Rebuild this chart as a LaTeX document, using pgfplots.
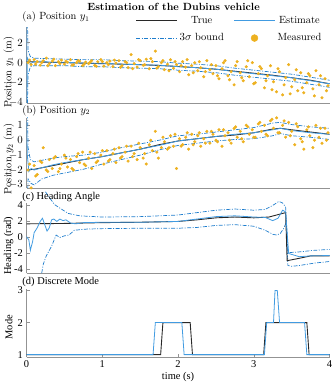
\documentclass[border=0pt]{standalone}
\usepackage{fontspec}
\usepackage{pgfplots}
\usepackage{pgfplotstable}
\pgfplotsset{compat=1.18}
\newfontfamily\tnr{Liberation Serif}
\definecolor{truec}{RGB}{40,40,40}
\definecolor{estc}{RGB}{65,155,225}
\definecolor{bndc}{RGB}{30,125,205}
\definecolor{measc}{RGB}{237,177,32}
\pgfplotsset{
  dub/.style={
    scale only axis, width=305pt, anchor=north west,
    xmin=0, xmax=4, xtick={0,1,2,3,4},
    axis x line*=bottom, axis y line*=left,
    axis line style={-, draw=gray!85},
    tick style={gray!85, line width=0.4pt}, tick align=inside,
    major tick length=3pt, clip bounding box=upper bound,
  },
  ylab/.style={ylabel style={at={(axis description cs:-0.059,#1)}, anchor=center}},
  notx/.style={xtick=\empty},
  truel/.style={truec, line width=0.9pt, no marks},
  estl/.style={estc, line width=0.8pt, no marks},
  bndl/.style={bndc, line width=0.7pt, no marks, dash pattern=on 4pt off 1.5pt on 1pt off 1.5pt},
  measl/.style={only marks, mark=*, mark size=1.35pt, measc, mark options={draw=none, fill=measc}},
  linelegend/.style={legend image code/.code={\draw[##1] (0cm,0cm) -- (1.45cm,0cm);}},
  dotlegend/.style={legend image code/.code={\draw[##1] plot coordinates {(0.72cm,0cm)};}},
}

% measured y1
\pgfplotstableread{
t y
0.02 0.0
0.06 -0.2
0.10 0.3
0.14 0.1
0.18 -0.25
0.22 0.2
0.26 0.45
0.30 -0.1
0.34 0.15
0.38 -0.3
0.42 0.1
0.46 0.25
0.50 -0.15
0.54 0.05
0.58 0.3
0.62 -0.2
0.66 0.0
0.70 0.15
0.74 -0.3
0.78 0.05
0.82 -0.1
0.86 0.2
0.90 -0.25
0.94 0.1
0.98 0.3
1.02 -0.35
1.06 0.0
1.10 0.15
1.14 -0.4
1.18 -0.05
1.22 0.2
1.26 -0.3
1.30 0.1
1.34 -0.5
1.38 0.8
1.42 -0.1
1.46 -0.45
1.50 0.2
1.54 -0.25
1.58 0.35
1.62 -0.6
1.66 0.1
1.70 1.15
1.74 -0.4
1.78 0.0
1.82 -0.7
1.86 -0.15
1.90 0.3
1.94 -0.55
1.98 -0.2
2.02 -0.9
2.06 0.1
2.10 -0.45
2.14 -1.2
2.18 -0.3
2.22 0.0
2.26 -0.8
2.30 -0.5
2.34 -1.4
2.38 0.2
2.42 -0.7
2.46 -1.1
2.50 -0.3
2.54 -1.6
2.58 -0.6
2.62 0.2
2.66 -1.3
2.70 -0.9
2.74 -2.2
2.78 0.1
2.82 -1.0
2.86 -1.8
2.90 -0.4
2.94 -1.4
2.98 0.0
3.02 -2.0
3.06 -1.1
3.10 -0.6
3.14 -2.5
3.18 -1.3
3.22 -0.3
3.26 -1.9
3.30 -2.9
3.34 -0.9
3.38 -3.2
3.42 -1.5
3.46 -0.2
3.50 -2.4
3.54 -1.7
3.58 -2.8
3.62 -1.0
3.66 -3.0
3.70 -2.0
3.74 -1.3
3.78 -2.6
3.82 -0.8
3.86 -2.2
3.90 -3.5
3.94 -1.6
3.98 -2.3
0.04 0.25
0.12 -0.15
0.20 0.0
0.28 -0.3
0.36 0.35
0.44 -0.1
0.52 0.15
0.60 -0.25
0.68 0.2
0.76 -0.15
0.84 0.05
0.92 -0.35
1.00 0.1
1.08 -0.2
1.16 0.25
1.24 -0.45
1.32 0.0
1.40 -0.6
1.48 0.3
1.56 -0.2
1.64 0.4
1.72 -0.55
1.80 0.2
1.88 -0.8
1.96 0.1
2.04 -0.3
2.12 0.3
2.20 -1.0
2.28 0.1
2.36 -0.9
2.44 -0.2
2.52 -1.3
2.60 0.0
2.68 -1.7
2.76 -0.3
2.84 -1.5
2.92 0.2
3.00 -2.1
3.08 -0.4
3.16 -1.8
3.24 -2.7
3.32 -0.6
3.40 -2.2
3.48 -3.1
3.56 -0.7
3.64 -2.5
3.72 -1.1
3.80 -3.3
3.88 -1.3
3.96 -2.8
}\measA

% measured y2
\pgfplotstableread{
t y
0.02 -2.0
0.06 -3.2
0.10 -1.7
0.14 -2.3
0.18 -1.4
0.22 -0.5
0.26 -2.0
0.30 -1.3
0.34 -1.9
0.38 -1.1
0.42 -2.1
0.46 -1.6
0.50 -1.0
0.54 -1.8
0.58 -1.3
0.62 -2.0
0.66 -1.1
0.70 -1.5
0.74 -0.8
0.78 -1.7
0.82 -1.2
0.86 -1.9
0.90 -0.9
0.94 -1.4
0.98 -1.0
1.02 -1.6
1.06 -0.7
1.10 -1.3
1.14 -0.9
1.18 -1.5
1.22 -0.5
1.26 -1.1
1.30 -0.8
1.34 -1.4
1.38 -0.4
1.42 -0.9
1.46 -1.3
1.50 -0.5
1.54 -1.2
1.58 -1.6
1.62 -0.3
1.66 -0.7
1.70 0.6
1.74 -1.2
1.78 -0.5
1.82 -0.1
1.86 -0.6
1.90 0.3
1.94 -0.4
1.98 -1.9
2.02 0.1
2.06 -0.3
2.10 0.2
2.14 -0.6
2.18 0.4
2.22 -0.1
2.26 0.3
2.30 -0.4
2.34 0.1
2.38 0.6
2.42 -0.2
2.46 0.4
2.50 0.0
2.54 0.7
2.58 -0.4
2.62 0.3
2.66 0.5
2.70 -0.2
2.74 0.8
2.78 0.2
2.82 0.6
2.86 -0.1
2.90 1.0
2.94 0.4
2.98 0.7
3.02 0.2
3.06 1.1
3.10 0.6
3.14 1.0
3.18 0.3
3.22 1.3
3.26 0.8
3.30 1.5
3.34 0.5
3.38 1.0
3.42 0.2
3.46 1.2
3.50 0.6
3.54 -0.3
3.58 0.9
3.62 0.1
3.66 -0.6
3.70 0.7
3.74 0.3
3.78 -0.5
3.82 1.0
3.86 0.2
3.90 -0.2
3.94 0.8
3.98 0.5
0.04 -1.6
0.12 -2.4
0.20 -1.5
0.28 -2.1
0.36 -1.2
0.44 -1.9
0.52 -1.2
0.60 -1.9
0.68 -0.9
0.76 -1.6
0.84 -0.8
0.92 -1.5
1.00 -0.7
1.08 -1.4
1.16 -0.6
1.24 -1.2
1.32 -0.4
1.40 -1.1
1.48 -0.2
1.56 -0.9
1.64 0.0
1.72 -0.8
1.80 0.2
1.88 -0.5
1.96 0.4
2.04 -0.4
2.12 0.5
2.20 -0.3
2.28 0.5
2.36 -0.2
2.44 0.6
2.52 -0.1
2.60 0.7
2.68 0.0
2.76 0.9
2.84 0.1
2.92 0.9
3.00 0.2
3.08 1.2
3.16 0.4
3.24 1.4
3.32 0.5
3.40 1.3
3.48 0.3
3.56 1.1
3.64 -0.1
3.72 0.9
3.80 0.0
3.88 0.8
3.96 0.0
}\measB

\begin{document}
\fontsize{10.5}{12.6}\selectfont
\begin{tikzpicture}
% (a) position y1
\begin{axis}[dub, notx, ylab=0.41, at={(25pt,-26.8pt)}, height=75.9pt,
  ymin=-4, ymax=3.5, ytick={-4,-2,0,2},
  ylabel={Position $y_1$ (m)},
  legend style={at={(0.99,1.2)}, anchor=north east, draw=none, fill=none,
    legend columns=2, row sep=4.5pt,
    /tikz/every even column/.append style={column sep=8pt}}]
\addlegendimage{truel, linelegend}\addlegendentry{True}
\addlegendimage{estl, linelegend}\addlegendentry{Estimate}
\addlegendimage{bndl, linelegend}\addlegendentry{$3\sigma$ bound}
\addlegendimage{measl, mark size=3.5pt, dotlegend}\addlegendentry{Measured}
\addplot[measl, forget plot] table[x=t, y=y] {\measA};
\addplot[bndl, forget plot] coordinates {(0,8) (0.02,1.2) (0.05,0.6) (0.1,0.45) (0.25,0.4) (0.5,0.35) (0.75,0.3) (1,0.3) (1.25,0.2) (1.5,0.15) (1.75,0.1) (2,-0.05) (2.25,-0.15) (2.5,-0.3) (2.75,-0.55) (3,-0.75) (3.25,-0.95) (3.5,-1.15) (3.75,-1.45) (4,-1.75)};
\addplot[bndl, forget plot] coordinates {(0,-8) (0.02,-1.2) (0.05,-0.4) (0.1,-0.3) (0.25,-0.3) (0.5,-0.3) (0.75,-0.4) (1,-0.4) (1.25,-0.5) (1.5,-0.55) (1.75,-0.6) (2,-0.75) (2.25,-0.85) (2.5,-1.0) (2.75,-1.25) (3,-1.45) (3.25,-1.65) (3.5,-1.85) (3.75,-2.15) (4,-2.45)};
\addplot[truel, forget plot] coordinates {(0,0.1) (0.25,0.05) (0.5,0.0) (0.75,-0.05) (1,-0.1) (1.25,-0.15) (1.5,-0.2) (1.75,-0.28) (2,-0.38) (2.25,-0.5) (2.5,-0.65) (2.75,-0.85) (3,-1.05) (3.25,-1.25) (3.5,-1.5) (3.75,-1.75) (4,-2.1)};
\addplot[estl, forget plot] coordinates {(0,3.6) (0.005,-4.2) (0.01,0.5) (0.03,0.2) (0.05,-0.1) (0.1,0.1) (0.2,0.15) (0.3,0.05) (0.5,0.05) (0.75,-0.05) (1,-0.05) (1.25,-0.15) (1.5,-0.2) (1.75,-0.25) (2,-0.4) (2.25,-0.5) (2.5,-0.65) (2.75,-0.9) (3,-1.1) (3.25,-1.3) (3.5,-1.5) (3.75,-1.8) (4,-2.1)};
\end{axis}

% (b) position y2
\begin{axis}[dub, notx, ylab=0.415, at={(25pt,-117.8pt)}, height=70.5pt,
  ymin=-3.2, ymax=1.5, ytick={-3,-2,-1,0,1},
  ylabel={Position $y_2$ (m)}]
\addplot[measl] table[x=t, y=y] {\measB};
\addplot[bndl] coordinates {(0,6) (0.02,-0.5) (0.05,-1.3) (0.1,-1.45) (0.2,-1.35) (0.35,-1.2) (0.5,-1.1) (0.75,-1.0) (1,-0.8) (1.25,-0.5) (1.5,-0.25) (1.75,0.0) (2,0.3) (2.25,0.4) (2.5,0.55) (2.75,0.7) (3,0.85) (3.25,1.15) (3.35,1.2) (3.5,1.05) (3.75,0.9) (4,0.8)};
\addplot[bndl] coordinates {(0,-6) (0.02,-2.6) (0.06,-2.9) (0.1,-3.0) (0.2,-2.6) (0.35,-2.35) (0.5,-2.2) (0.75,-1.95) (1,-1.6) (1.25,-1.3) (1.5,-1.0) (1.75,-0.65) (2,-0.35) (2.25,-0.2) (2.5,-0.05) (2.75,0.05) (3,0.1) (3.25,0.3) (3.35,0.45) (3.5,0.3) (3.75,0.2) (4,0.05)};
\addplot[truel] coordinates {(0,-2.0) (0.1,-1.95) (0.25,-1.8) (0.5,-1.55) (0.75,-1.3) (1,-1.1) (1.25,-0.85) (1.5,-0.6) (1.75,-0.3) (2,-0.05) (2.25,0.1) (2.5,0.25) (2.75,0.35) (3,0.5) (3.25,0.75) (3.35,0.8) (3.5,0.7) (3.75,0.55) (4,0.4)};
\addplot[estl] coordinates {(0,1.3) (0.01,-1.0) (0.03,-2.1) (0.06,-1.9) (0.1,-2.0) (0.2,-1.85) (0.35,-1.65) (0.5,-1.5) (0.75,-1.3) (1,-1.1) (1.25,-0.85) (1.5,-0.6) (1.75,-0.35) (2,-0.05) (2.25,0.1) (2.5,0.25) (2.75,0.4) (3,0.5) (3.25,0.7) (3.35,0.8) (3.5,0.65) (3.75,0.5) (4,0.4)};
\end{axis}

% (c) heading
\begin{axis}[dub, notx, ylab=0.39, at={(25pt,-203.5pt)}, height=70.5pt, clip=false,
  ymin=-4.44, ymax=4.3, ytick={-4,-2,0,2,4},
  tick label style={font=\tnr}, /pgf/number format/assume math mode=true,
  ylabel={\tnr Heading (rad)}]
\addplot[bndl] coordinates {(0.25,5.7) (0.3,5.0) (0.37,4.1) (0.45,3.6) (0.55,3.0) (0.7,2.7) (1,2.55) (1.5,2.6) (2,2.8) (2.25,3.1) (2.5,3.4) (2.75,3.55) (3,3.4) (3.15,3.5) (3.25,4.0) (3.33,4.5) (3.38,4.3) (3.42,3.8) (3.45,-1.9) (3.6,-1.8) (3.8,-1.6) (4,-1.5)};
\addplot[bndl] coordinates {(0.2,-4.44) (0.22,-3.35) (0.26,-2.3) (0.33,-1.1) (0.39,0.3) (0.44,0.0) (0.5,0.2) (0.56,0.3) (0.63,0.9) (0.8,1.05) (1,1.1) (1.5,1.15) (2,1.15) (2.25,1.25) (2.5,1.5) (2.75,1.6) (3,1.4) (3.15,0.9) (3.25,0.4) (3.3,0.3) (3.35,0.5) (3.4,1.2) (3.43,2.0) (3.45,-3.5) (3.5,-3.6) (3.6,-3.5) (3.8,-3.2) (4,-3.0)};
\addplot[truel] coordinates {(0,1.7) (0.5,1.75) (1,1.85) (1.5,1.9) (2,2.0) (2.25,2.2) (2.5,2.45) (2.75,2.55) (3,2.45) (3.2,2.55) (3.42,3.1) (3.44,-2.9) (3.6,-2.6) (3.75,-2.3) (4,-2.3)};
\addplot[estl] coordinates {(0,0.1) (0.03,-0.3) (0.05,-1.6) (0.08,-0.5) (0.1,0.6) (0.14,1.2) (0.18,2.0) (0.21,2.4) (0.24,1.6) (0.27,0.8) (0.3,1.2) (0.33,2.2) (0.36,2.3) (0.4,2.0) (0.44,2.3) (0.48,2.1) (0.52,2.2) (0.58,1.8) (0.65,1.7) (0.75,1.85) (1,1.9) (1.5,1.9) (2,2.0) (2.25,2.3) (2.5,2.6) (2.75,2.7) (3,2.55) (3.15,2.5) (3.25,2.1) (3.32,2.4) (3.38,3.4) (3.42,3.2) (3.46,-2.0) (3.6,-2.4) (3.75,-2.3) (4,-2.25)};
\end{axis}

% (d) discrete mode
\begin{axis}[dub, ylab=0.44, at={(25pt,-290pt)}, height=68.7pt,
  ymin=0.92, ymax=3.05, ytick={1,2,3},
  tick label style={font=\tnr}, /pgf/number format/assume math mode=true,
  ylabel={\tnr Mode}, xlabel={\tnr time (s)},
  xlabel style={yshift=3pt}]
\addplot[truel] coordinates {(0,1) (1.77,1) (1.80,2) (2.16,2) (2.19,1) (3.13,1) (3.16,2) (3.70,2) (3.73,1) (4,1)};
\addplot[estl] coordinates {(0,1) (1.67,1) (1.70,2) (2.05,2) (2.08,1) (3.14,1) (3.17,2) (3.26,2) (3.28,3) (3.31,3) (3.34,2) (3.67,2) (3.70,1) (4,1)};
\end{axis}

\node[anchor=base] at (173pt,-10pt) {\textbf{Estimation of the Dubins vehicle}};
\node[anchor=base west, inner sep=0pt] at (20.7pt,-19pt) {(a) Position $y_1$};
\node[anchor=base west, inner sep=0pt] at (20.7pt,-113pt) {(b) Position $y_2$};
\node[anchor=base west, inner sep=0pt] at (20.7pt,-200pt) {\tnr (c) Heading Angle};
\node[anchor=base west, inner sep=0pt] at (20.7pt,-286pt) {\tnr (d) Discrete Mode};
\end{tikzpicture}
\end{document}
